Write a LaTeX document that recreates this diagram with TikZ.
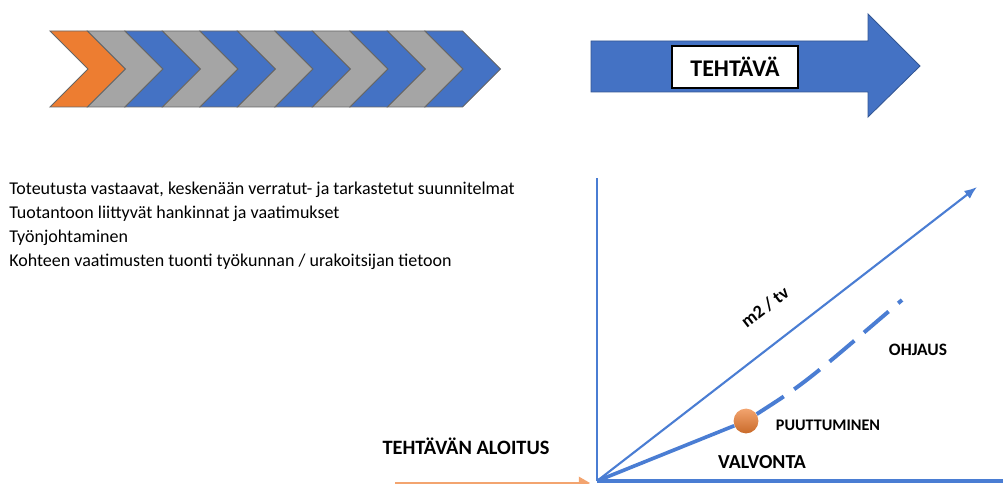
\documentclass[tikz,border=0pt]{standalone}
\usepackage{fontspec}
\setmainfont{Carlito}
\usepackage{tikz}
\usetikzlibrary{positioning}
\usetikzlibrary{calc,arrows.meta}

\definecolor{officeblue}{HTML}{4472C4}
\definecolor{officeorange}{HTML}{ED7D31}
\definecolor{officegray}{HTML}{A5A5A5}
\definecolor{lineblue}{HTML}{4A7DD3}

\tikzset{
	chevron/.style={draw=black!60, line width=0.6pt},
	axis/.style={lineblue, line width=1.6pt},
	lbl/.style={font=\fontsize{11}{13}\selectfont\bfseries, inner sep=0pt},
}

\begin{document}
\begin{tikzpicture}[x=0.025cm,y=-0.025cm]
	
	% picture is measured in pixels of the reference: (0,0) is top left
	\useasboundingbox (0,0) rectangle (1003,484);
	
	% ROW OF CHEVRONS
	\foreach \col [count=\i from 0] in {officeorange,officegray,officeblue,officegray,officeblue,officegray,officeblue,officegray,officeblue,officegray,officeblue}{
		\pgfmathsetmacro{\xl}{50+37.5*\i}
		\filldraw[chevron, fill=\col] (\xl,31) -- ++(37.5,0) -- ++(38,38) -- ++(-38,38) -- ++(-37.5,0) -- ++(38,-38) -- cycle;
	}
	
	% BIG ARROW WITH THE TASK
	\filldraw[fill=officeblue, draw=officeblue!75!black, line width=0.6pt]
		(591,41) -- (868,41) -- (868,14) -- (920,66) -- (868,117) -- (868,92) -- (591,92) -- cycle;
	\node[draw=black, fill=white, line width=0.8pt, minimum width=3.15cm, minimum height=1.05cm,
		font=\fontsize{17}{19}\selectfont\bfseries] (Task) at (735,67) {TEHTÄVÄ};
	
	% LIST OF REQUIREMENTS
	\node[anchor=north west, align=left, inner sep=0pt, font=\fontsize{12.8}{17}\selectfont] (Reqs) at (9,182) {%
		Toteutusta vastaavat, keskenään verratut- ja tarkastetut suunnitelmat\\
		Tuotantoon liittyvät hankinnat ja vaatimukset\\
		Työnjohtaminen\\
		Kohteen vaatimusten tuonti työkunnan / urakoitsijan tietoon};
	
	% CHART
	\coordinate (O) at (597,481);
	\coordinate (YTop) at (597,178);
	\coordinate (XEnd) at (1003,481);
	\coordinate (Rate) at (977,187);
	\coordinate (OhjEnd) at (902,300);
	\coordinate (StartL) at (395,483);
	\coordinate (StartR) at (590,483);
	
	\node[circle, minimum size=0.62cm, inner sep=0pt, top color=officeorange!70!white,
		bottom color=officeorange!85!black] (Dot) at (746,421) {};
	
	\draw[axis] (O) -- (YTop);
	\draw[axis, line width=2.2pt] (O) -- (XEnd);
	\draw[lineblue, line width=1.5pt, -{Latex[length=9pt,width=7pt]}] (O) -- (Rate);
	\draw[lineblue, line width=2.6pt] (O) -- (Dot);
	\draw[lineblue, line width=2.8pt, dash pattern=on 23pt off 9pt] (Dot) .. controls (805,383) .. (OhjEnd);
	\draw[officeorange!70, line width=1pt, -{Triangle[length=8pt,width=9pt]}] (StartL) -- (StartR);
	
	% LABELS
	\node[lbl, font=\fontsize{13}{15}\selectfont\bfseries, rotate=37.7] (RateLbl) at (765,307) {m2 / tv};
	\node[lbl, font=\fontsize{12.4}{14}\selectfont\bfseries] (OhjLbl) at (918,350) {OHJAUS};
	\node[lbl, font=\fontsize{11.5}{13}\selectfont\bfseries] (PuuLbl) at (828,425) {PUUTTUMINEN};
	\node[lbl, font=\fontsize{14.1}{16}\selectfont\bfseries] (ValLbl) at (762,462) {VALVONTA};
	\node[lbl, font=\fontsize{14.5}{16}\selectfont\bfseries] (StartLbl) at (466,446) {TEHTÄVÄN ALOITUS};
	
\end{tikzpicture}
\end{document}
